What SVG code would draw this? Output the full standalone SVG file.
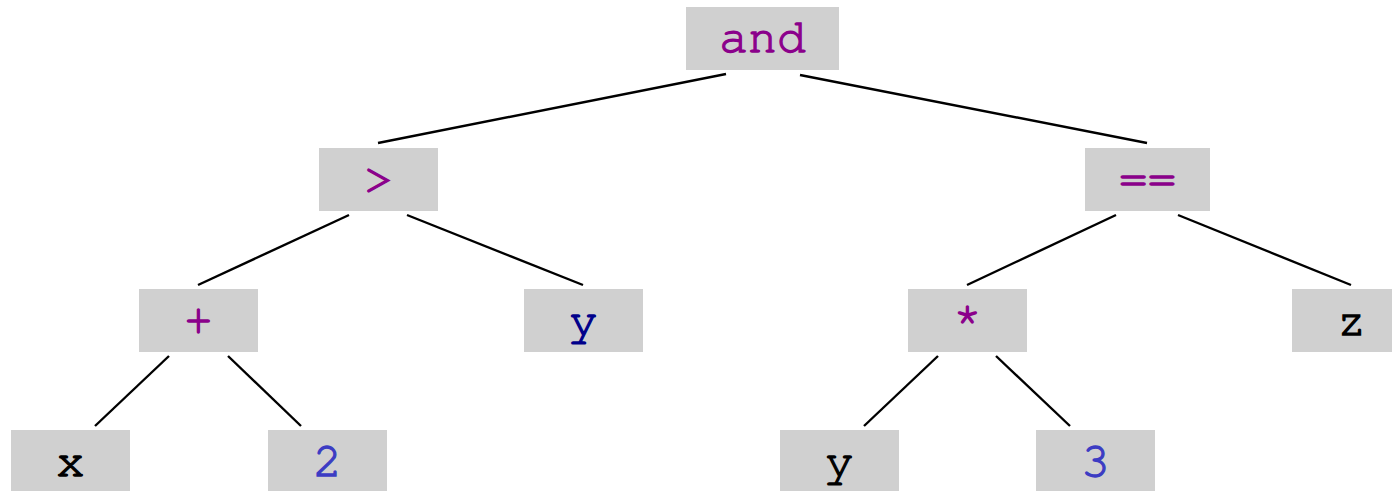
<svg xmlns="http://www.w3.org/2000/svg" width="1392" height="491" viewBox="0 0 1392 491">
  <style>
    .box { fill: #d0d0d0; }
    .lbl { font-family: "Nimbus Mono PS", "Nimbus Mono L", "FreeMono", "Courier", "Liberation Mono", monospace; font-size: 48px; text-anchor: middle; stroke-width: 1.3; }
    .op { fill: #8b008b; stroke: #8b008b; }
    .var { fill: #000000; stroke: #000000; }
    .name { fill: #00008b; stroke: #00008b; }
    .num { fill: #3c3cc3; stroke: #3c3cc3; }
    .edge { stroke: #000000; stroke-width: 2.4; fill: none; stroke-linecap: butt; }
  </style>
  <rect width="1392" height="491" fill="#ffffff"/>

  <!-- connectors -->
  <g id="edges">
    <line class="edge" x1="726" y1="74" x2="378" y2="143"/>
    <line class="edge" x1="800" y1="75" x2="1147" y2="143"/>
    <line class="edge" x1="349" y1="215" x2="198" y2="285"/>
    <line class="edge" x1="407" y1="215" x2="583" y2="285"/>
    <line class="edge" x1="1116" y1="215" x2="967" y2="285"/>
    <line class="edge" x1="1178" y1="215" x2="1351" y2="285"/>
    <line class="edge" x1="169" y1="356" x2="95" y2="426"/>
    <line class="edge" x1="228" y1="356" x2="301" y2="426"/>
    <line class="edge" x1="938" y1="356" x2="864" y2="426"/>
    <line class="edge" x1="996" y1="356" x2="1070" y2="426"/>
  </g>

  <!-- row 1 -->
  <g id="n-and">
    <rect class="box" x="686" y="7" width="153" height="63"/>
    <text class="lbl op" x="762.5" y="52">and</text>
  </g>

  <!-- row 2 -->
  <g id="n-gt">
    <rect class="box" x="319" y="148" width="119" height="63"/>
    <text class="lbl op" x="378.5" y="194">&gt;</text>
  </g>
  <g id="n-eq">
    <rect class="box" x="1085" y="148" width="125" height="63"/>
    <text class="lbl op" x="1147.5" y="194">==</text>
  </g>

  <!-- row 3 -->
  <g id="n-plus">
    <rect class="box" x="139" y="289" width="119" height="63"/>
    <text class="lbl op" x="198.5" y="335">+</text>
  </g>
  <g id="n-y1">
    <rect class="box" x="524" y="289" width="119" height="63"/>
    <text class="lbl name" x="583.5" y="335">y</text>
  </g>
  <g id="n-mul">
    <rect class="box" x="908" y="289" width="119" height="63"/>
    <text class="lbl op" x="967.5" y="335">*</text>
  </g>
  <g id="n-z">
    <rect class="box" x="1292" y="289" width="119" height="63"/>
    <text class="lbl var" x="1351.5" y="335">z</text>
  </g>

  <!-- row 4 -->
  <g id="n-x">
    <rect class="box" x="11" y="430" width="119" height="61"/>
    <text class="lbl var" x="70.5" y="476">x</text>
  </g>
  <g id="n-2">
    <rect class="box" x="268" y="430" width="119" height="61"/>
    <text class="lbl num" x="327.5" y="476">2</text>
  </g>
  <g id="n-y2">
    <rect class="box" x="780" y="430" width="119" height="61"/>
    <text class="lbl var" x="839.5" y="476">y</text>
  </g>
  <g id="n-3">
    <rect class="box" x="1036" y="430" width="119" height="61"/>
    <text class="lbl num" x="1095.5" y="476">3</text>
  </g>
</svg>
